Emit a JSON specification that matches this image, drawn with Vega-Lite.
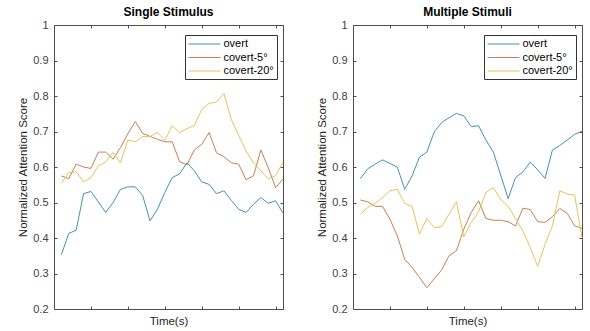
{
  "$schema": "https://vega.github.io/schema/vega-lite/v6.json",
  "padding": {"left": 17, "top": 6, "right": 0, "bottom": 0},
  "config": {
    "font": "Liberation Sans",
    "view": {"stroke": null},
    "axis": {"domainColor": "#4d4d4d", "tickColor": "#4d4d4d", "labelColor": "#404040", "labelFontSize": 11, "titleFontSize": 11.5, "titleFontWeight": "normal", "titleColor": "#262626", "grid": false},
    "title": {"fontSize": 12, "fontWeight": "bold", "color": "#000000", "offset": -2, "dy": -2},
    "legend": {"title": null, "orient": "none", "legendX": 131, "legendY": 10, "strokeColor": "#333333", "fillColor": "#ffffff", "padding": 3, "symbolType": "M-2.909,0H2.909", "symbolSize": 121, "symbolOffset": 10.5, "symbolStrokeWidth": 1, "labelFontSize": 11, "labelColor": "#000000", "rowPadding": 2.5, "labelOffset": 13}
  },
  "datasets": {
    "att": [
      {"panel": "Single", "t": 1, "overt": 0.353, "covert-5°": 0.575, "covert-20°": 0.554},
      {"panel": "Single", "t": 2, "overt": 0.413, "covert-5°": 0.567, "covert-20°": 0.584},
      {"panel": "Single", "t": 3, "overt": 0.422, "covert-5°": 0.608, "covert-20°": 0.587},
      {"panel": "Single", "t": 4, "overt": 0.525, "covert-5°": 0.600, "covert-20°": 0.558},
      {"panel": "Single", "t": 5, "overt": 0.531, "covert-5°": 0.596, "covert-20°": 0.570},
      {"panel": "Single", "t": 6, "overt": 0.502, "covert-5°": 0.642, "covert-20°": 0.603},
      {"panel": "Single", "t": 7, "overt": 0.472, "covert-5°": 0.642, "covert-20°": 0.614},
      {"panel": "Single", "t": 8, "overt": 0.500, "covert-5°": 0.622, "covert-20°": 0.641},
      {"panel": "Single", "t": 9, "overt": 0.537, "covert-5°": 0.655, "covert-20°": 0.612},
      {"panel": "Single", "t": 10, "overt": 0.544, "covert-5°": 0.694, "covert-20°": 0.676},
      {"panel": "Single", "t": 11, "overt": 0.544, "covert-5°": 0.728, "covert-20°": 0.671},
      {"panel": "Single", "t": 12, "overt": 0.520, "covert-5°": 0.695, "covert-20°": 0.686},
      {"panel": "Single", "t": 13, "overt": 0.448, "covert-5°": 0.686, "covert-20°": 0.686},
      {"panel": "Single", "t": 14, "overt": 0.481, "covert-5°": 0.678, "covert-20°": 0.697},
      {"panel": "Single", "t": 15, "overt": 0.528, "covert-5°": 0.671, "covert-20°": 0.675},
      {"panel": "Single", "t": 16, "overt": 0.570, "covert-5°": 0.671, "covert-20°": 0.716},
      {"panel": "Single", "t": 17, "overt": 0.581, "covert-5°": 0.615, "covert-20°": 0.697},
      {"panel": "Single", "t": 18, "overt": 0.612, "covert-5°": 0.606, "covert-20°": 0.708},
      {"panel": "Single", "t": 19, "overt": 0.589, "covert-5°": 0.648, "covert-20°": 0.717},
      {"panel": "Single", "t": 20, "overt": 0.558, "covert-5°": 0.664, "covert-20°": 0.762},
      {"panel": "Single", "t": 21, "overt": 0.551, "covert-5°": 0.697, "covert-20°": 0.779},
      {"panel": "Single", "t": 22, "overt": 0.525, "covert-5°": 0.640, "covert-20°": 0.783},
      {"panel": "Single", "t": 23, "overt": 0.533, "covert-5°": 0.629, "covert-20°": 0.807},
      {"panel": "Single", "t": 24, "overt": 0.506, "covert-5°": 0.612, "covert-20°": 0.734},
      {"panel": "Single", "t": 25, "overt": 0.481, "covert-5°": 0.608, "covert-20°": 0.689},
      {"panel": "Single", "t": 26, "overt": 0.472, "covert-5°": 0.564, "covert-20°": 0.645},
      {"panel": "Single", "t": 27, "overt": 0.495, "covert-5°": 0.575, "covert-20°": 0.612},
      {"panel": "Single", "t": 28, "overt": 0.514, "covert-5°": 0.648, "covert-20°": 0.589},
      {"panel": "Single", "t": 29, "overt": 0.498, "covert-5°": 0.598, "covert-20°": 0.567},
      {"panel": "Single", "t": 30, "overt": 0.505, "covert-5°": 0.542, "covert-20°": 0.575},
      {"panel": "Single", "t": 31, "overt": 0.470, "covert-5°": 0.566, "covert-20°": 0.614},
      {"panel": "Multiple", "t": 1, "overt": 0.567, "covert-5°": 0.507, "covert-20°": 0.467},
      {"panel": "Multiple", "t": 2, "overt": 0.595, "covert-5°": 0.502, "covert-20°": 0.486},
      {"panel": "Multiple", "t": 3, "overt": 0.608, "covert-5°": 0.489, "covert-20°": 0.498},
      {"panel": "Multiple", "t": 4, "overt": 0.620, "covert-5°": 0.489, "covert-20°": 0.514},
      {"panel": "Multiple", "t": 5, "overt": 0.610, "covert-5°": 0.453, "covert-20°": 0.533},
      {"panel": "Multiple", "t": 6, "overt": 0.600, "covert-5°": 0.406, "covert-20°": 0.537},
      {"panel": "Multiple", "t": 7, "overt": 0.537, "covert-5°": 0.340, "covert-20°": 0.498},
      {"panel": "Multiple", "t": 8, "overt": 0.575, "covert-5°": 0.317, "covert-20°": 0.489},
      {"panel": "Multiple", "t": 9, "overt": 0.628, "covert-5°": 0.289, "covert-20°": 0.411},
      {"panel": "Multiple", "t": 10, "overt": 0.642, "covert-5°": 0.260, "covert-20°": 0.455},
      {"panel": "Multiple", "t": 11, "overt": 0.699, "covert-5°": 0.285, "covert-20°": 0.429},
      {"panel": "Multiple", "t": 12, "overt": 0.725, "covert-5°": 0.310, "covert-20°": 0.432},
      {"panel": "Multiple", "t": 13, "overt": 0.739, "covert-5°": 0.350, "covert-20°": 0.467},
      {"panel": "Multiple", "t": 14, "overt": 0.751, "covert-5°": 0.364, "covert-20°": 0.502},
      {"panel": "Multiple", "t": 15, "overt": 0.744, "covert-5°": 0.425, "covert-20°": 0.403},
      {"panel": "Multiple", "t": 16, "overt": 0.714, "covert-5°": 0.472, "covert-20°": 0.444},
      {"panel": "Multiple", "t": 17, "overt": 0.716, "covert-5°": 0.505, "covert-20°": 0.474},
      {"panel": "Multiple", "t": 18, "overt": 0.676, "covert-5°": 0.455, "covert-20°": 0.528},
      {"panel": "Multiple", "t": 19, "overt": 0.642, "covert-5°": 0.450, "covert-20°": 0.542},
      {"panel": "Multiple", "t": 20, "overt": 0.577, "covert-5°": 0.450, "covert-20°": 0.508},
      {"panel": "Multiple", "t": 21, "overt": 0.511, "covert-5°": 0.446, "covert-20°": 0.489},
      {"panel": "Multiple", "t": 22, "overt": 0.570, "covert-5°": 0.434, "covert-20°": 0.455},
      {"panel": "Multiple", "t": 23, "overt": 0.586, "covert-5°": 0.484, "covert-20°": 0.420},
      {"panel": "Multiple", "t": 24, "overt": 0.614, "covert-5°": 0.480, "covert-20°": 0.373},
      {"panel": "Multiple", "t": 25, "overt": 0.592, "covert-5°": 0.446, "covert-20°": 0.320},
      {"panel": "Multiple", "t": 26, "overt": 0.568, "covert-5°": 0.444, "covert-20°": 0.382},
      {"panel": "Multiple", "t": 27, "overt": 0.648, "covert-5°": 0.460, "covert-20°": 0.434},
      {"panel": "Multiple", "t": 28, "overt": 0.661, "covert-5°": 0.483, "covert-20°": 0.533},
      {"panel": "Multiple", "t": 29, "overt": 0.676, "covert-5°": 0.469, "covert-20°": 0.524},
      {"panel": "Multiple", "t": 30, "overt": 0.692, "covert-5°": 0.434, "covert-20°": 0.521},
      {"panel": "Multiple", "t": 31, "overt": 0.701, "covert-5°": 0.427, "covert-20°": 0.400}
    ]
  },
  "spacing": 31,
  "resolve": {"scale": {"color": "independent"}, "legend": {"color": "independent"}},
  "hconcat": [
    {
      "width": 229, "height": 284,
      "title": "Single Stimulus",
      "data": {"name": "att"},
      "transform": [
        {"filter": "datum.panel === 'Single'"},
        {"fold": ["overt", "covert-5°", "covert-20°"], "as": ["series", "v"]}
      ],
      "layer": [
        {
          "mark": {"type": "line", "strokeWidth": 1},
          "encoding": {
            "x": {"field": "t", "type": "quantitative", "scale": {"domain": [0, 31], "nice": false}, "axis": {"orient": "bottom", "values": [5, 10, 15, 20, 25, 30], "labels": false, "tickSize": -3, "title": "Time(s)", "titlePadding": 6}},
            "y": {"field": "v", "type": "quantitative", "scale": {"domain": [0.2, 1], "nice": false, "zero": false}, "axis": {"orient": "left", "values": [0.2, 0.3, 0.4, 0.5, 0.6, 0.7, 0.8, 0.9, 1], "format": ".1~f", "tickSize": -3, "labelPadding": 9, "title": "Normalized Attention Score", "titlePadding": 4}},
            "color": {"field": "series", "type": "nominal", "sort": null, "scale": {"domain": ["overt", "covert-5°", "covert-20°"], "range": ["#4393b0", "#c47f55", "#e6c35a"]}}
          }
        },
        {
          "mark": {"type": "line", "strokeOpacity": 0},
          "encoding": {
            "x": {"field": "t", "type": "quantitative", "axis": {"orient": "top", "values": [5, 10, 15, 20, 25, 30], "labels": false, "tickSize": -3, "title": null}},
            "y": {"field": "v", "type": "quantitative", "axis": {"orient": "right", "values": [0.2, 0.3, 0.4, 0.5, 0.6, 0.7, 0.8, 0.9, 1], "labels": false, "tickSize": -3, "title": null}},
            "detail": {"field": "series"}
          }
        }
      ],
      "resolve": {"axis": {"x": "independent", "y": "independent"}}
    },
    {
      "width": 229, "height": 284,
      "title": "Multiple Stimuli",
      "data": {"name": "att"},
      "transform": [
        {"filter": "datum.panel === 'Multiple'"},
        {"fold": ["overt", "covert-5°", "covert-20°"], "as": ["series", "v"]}
      ],
      "layer": [
        {
          "mark": {"type": "line", "strokeWidth": 1},
          "encoding": {
            "x": {"field": "t", "type": "quantitative", "scale": {"domain": [0, 31], "nice": false}, "axis": {"orient": "bottom", "values": [5, 10, 15, 20, 25, 30], "labels": false, "tickSize": -3, "title": "Time(s)", "titlePadding": 6}},
            "y": {"field": "v", "type": "quantitative", "scale": {"domain": [0.2, 1], "nice": false, "zero": false}, "axis": {"orient": "left", "values": [0.2, 0.3, 0.4, 0.5, 0.6, 0.7, 0.8, 0.9, 1], "format": ".1~f", "tickSize": -3, "labelPadding": 9, "title": "Normalized Attention Score", "titlePadding": 4}},
            "color": {"field": "series", "type": "nominal", "sort": null, "scale": {"domain": ["overt", "covert-5°", "covert-20°"], "range": ["#4393b0", "#c47f55", "#e6c35a"]}}
          }
        },
        {
          "mark": {"type": "line", "strokeOpacity": 0},
          "encoding": {
            "x": {"field": "t", "type": "quantitative", "axis": {"orient": "top", "values": [5, 10, 15, 20, 25, 30], "labels": false, "tickSize": -3, "title": null}},
            "y": {"field": "v", "type": "quantitative", "axis": {"orient": "right", "values": [0.2, 0.3, 0.4, 0.5, 0.6, 0.7, 0.8, 0.9, 1], "labels": false, "tickSize": -3, "title": null}},
            "detail": {"field": "series"}
          }
        }
      ],
      "resolve": {"axis": {"x": "independent", "y": "independent"}}
    }
  ]
}
